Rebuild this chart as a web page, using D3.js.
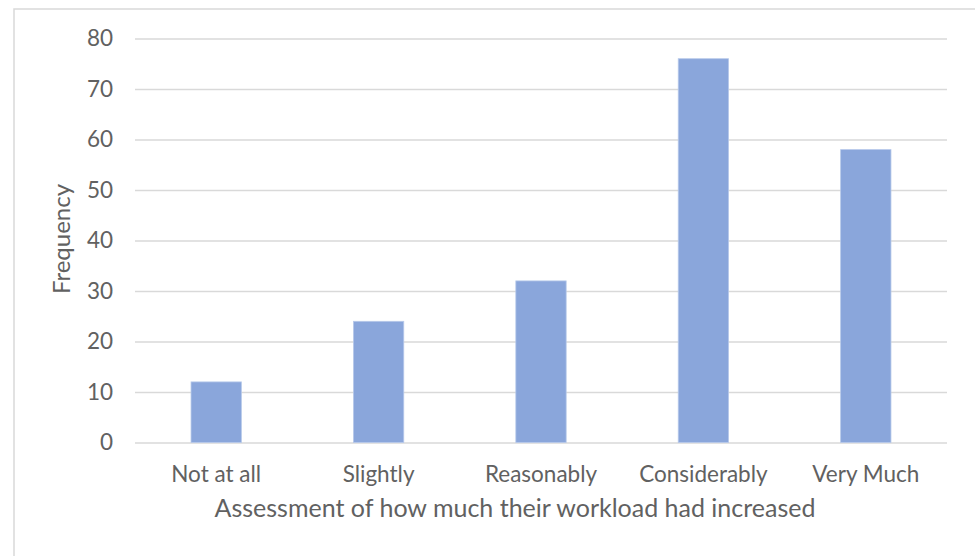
<!DOCTYPE html>
<html><head><meta charset="utf-8">
<script src="https://cdn.jsdelivr.net/npm/d3@7"></script>
<style>html,body{margin:0;padding:0;background:#fff}svg{display:block}</style>
</head><body><svg id="c" width="975" height="556"></svg>
<script>
const categories = ["Not at all", "Slightly", "Reasonably", "Considerably", "Very Much"];
const frequency = [12, 24, 32, 76, 58];
const yTicks = [0, 10, 20, 30, 40, 50, 60, 70, 80];
const xTitle = "Assessment of how much their workload had increased";
const yTitle = "Frequency";

const svg = d3.select("#c");
const font = "Lato, 'Open Sans', sans-serif";
const textColor = "#616161";
const m = {left: 135, right: 947, top: 38.5, bottom: 442.5};

svg.append("rect").attr("x", 14).attr("y", 9).attr("width", 975).attr("height", 560)
  .attr("fill", "#fff").attr("stroke", "#d9d9d9").attr("stroke-width", 1.5);

const x = d3.scaleBand().domain(categories).range([m.left, m.right]).paddingInner(0.69).paddingOuter(0.345);
const y = d3.scaleLinear().domain([0, 80]).range([m.bottom, m.top]);

const ga = svg.append("g").attr("transform", `translate(${m.left},0)`)
  .call(d3.axisLeft(y).tickValues(yTicks).tickSize(-(m.right - m.left)).tickPadding(22).tickFormat(d3.format("d")));
ga.select(".domain").remove();
ga.selectAll(".tick line").attr("stroke", "#d9d9d9").attr("stroke-width", 1.5);
ga.selectAll(".tick text").attr("fill", textColor).style("font-family", font).style("font-size", "22.5px");

svg.append("g").selectAll("rect").data(categories).join("rect")
  .attr("x", d => x(d)).attr("width", x.bandwidth())
  .attr("y", (d, i) => y(frequency[i])).attr("height", (d, i) => y(0) - y(frequency[i]))
  .attr("fill", "#8aa6db").attr("stroke", "#b7c9ea").attr("stroke-width", 0.8);

const gx = svg.append("g").attr("transform", `translate(0,${m.bottom})`)
  .call(d3.axisBottom(x).tickSize(0).tickPadding(24));
gx.select(".domain").remove();
gx.selectAll(".tick text").attr("fill", textColor).style("font-family", font).style("font-size", "22.5px");

svg.append("text").attr("x", 515).attr("y", 517).attr("text-anchor", "middle")
  .attr("fill", textColor).style("font-family", font).style("font-size", "25px").text(xTitle);
svg.append("text").attr("transform", `translate(70,239) rotate(-90)`)
  .attr("text-anchor", "middle").attr("fill", textColor).style("font-family", font).style("font-size", "24px").text(yTitle);
</script></body></html>
